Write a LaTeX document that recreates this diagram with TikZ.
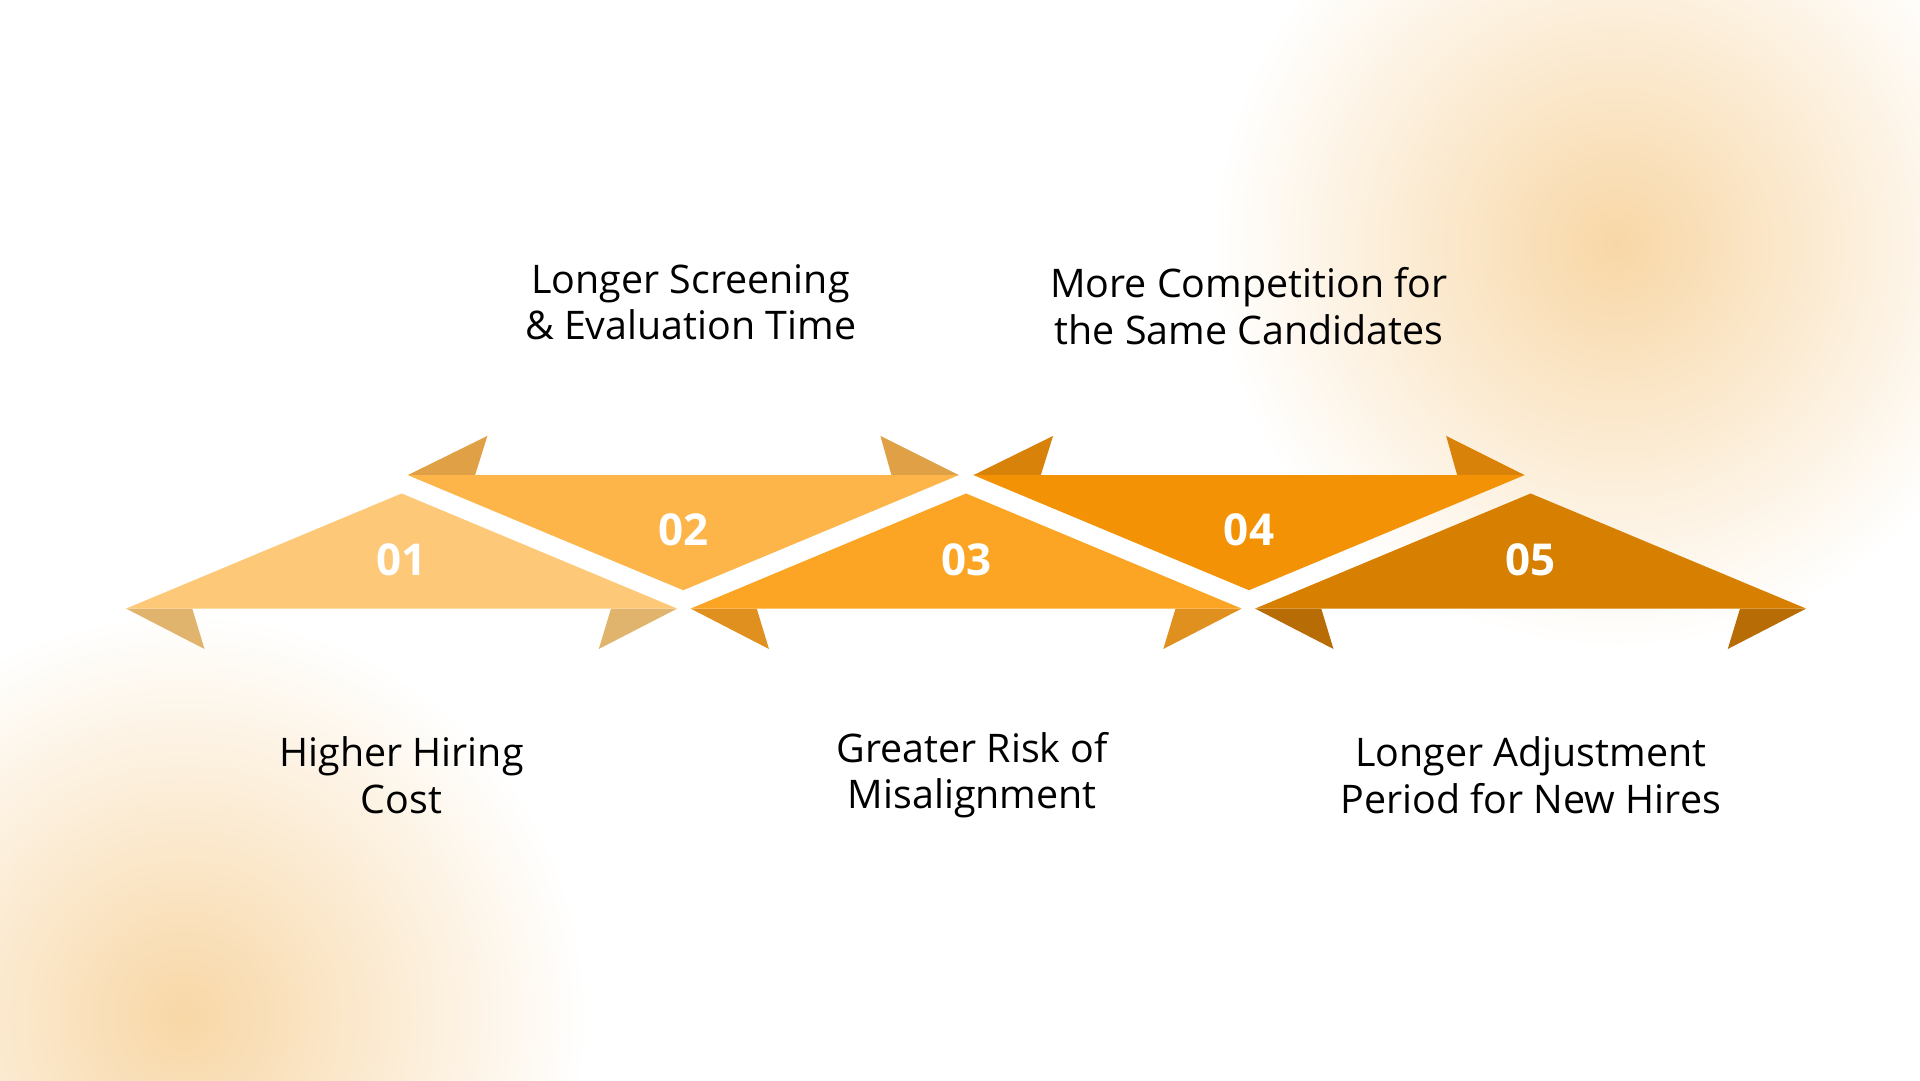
\documentclass[tikz,border=0pt]{standalone}
\usepackage{fontspec}
\setmainfont{Open Sans}
\definecolor{cA}{HTML}{FDC878}\definecolor{wA}{HTML}{E0B46C}
\definecolor{cB}{HTML}{FDB54A}\definecolor{wB}{HTML}{E0A045}
\definecolor{cC}{HTML}{FCA524}\definecolor{wC}{HTML}{E0901E}
\definecolor{cD}{HTML}{F39204}\definecolor{wD}{HTML}{D8820A}
\definecolor{cE}{HTML}{D67F00}\definecolor{wE}{HTML}{B86C06}
\definecolor{glow}{HTML}{F8D7A6}
\begin{document}
\begin{tikzpicture}[x=0.012245cm,y=-0.012245cm]
        \tikzset{num_style/.style={text=white,font=\fontsize{12.5}{14}\selectfont\bfseries},
                 label_style/.style={align=center,font=\fontsize{11.2}{13.2}\selectfont}}
        \fill[white] (0,0) rectangle (1568,882);
        \useasboundingbox (0,0) rectangle (1568,882);
        \begin{scope}
          \clip (0,0) rectangle (1568,882);
          \shade[inner color=glow,outer color=white] (1320,200) circle (330);
          \shade[inner color=glow,outer color=white] (150,830) circle (330);
        \end{scope}
        % upward triangles
        \foreach \x/\c/\w in {328/cA/wA,789/cC/wC,1250/cE/wE}{
          \fill[\w] (\x-225,497) -- (\x-161,530) -- (\x-171,497) -- cycle;
          \fill[\w] (\x+225,497) -- (\x+161,530) -- (\x+171,497) -- cycle;
          \fill[\c] (\x,403) -- (\x+225,497) -- (\x-225,497) -- cycle;
        }
        % downward triangles
        \foreach \x/\c/\w in {558/cB/wB,1020/cD/wD}{
          \fill[\w] (\x-225,388) -- (\x-160,356) -- (\x-170,388) -- cycle;
          \fill[\w] (\x+225,388) -- (\x+161,356) -- (\x+170,388) -- cycle;
          \fill[\c] (\x-225,388) -- (\x+225,388) -- (\x,482) -- cycle;
        }
        \node[num_style] (n1) at (328,457) {01};
        \node[num_style] (n2) at (558,433) {02};
        \node[num_style] (n3) at (789,457) {03};
        \node[num_style] (n4) at (1020,433) {04};
        \node[num_style] (n5) at (1250,457) {05};
        \node[label_style] (t1) at (328,633) {Higher Hiring\\Cost};
        \node[label_style] (t2) at (564,247) {Longer Screening\\\& Evaluation Time};
        \node[label_style] (t3) at (794,633) {Greater Risk of\\Misalignment};
        \node[label_style] (t4) at (1020,250) {More Competition for\\the Same Candidates};
        \node[label_style] (t5) at (1250,633) {Longer Adjustment\\Period for New Hires};
      \end{tikzpicture}
\end{document}
